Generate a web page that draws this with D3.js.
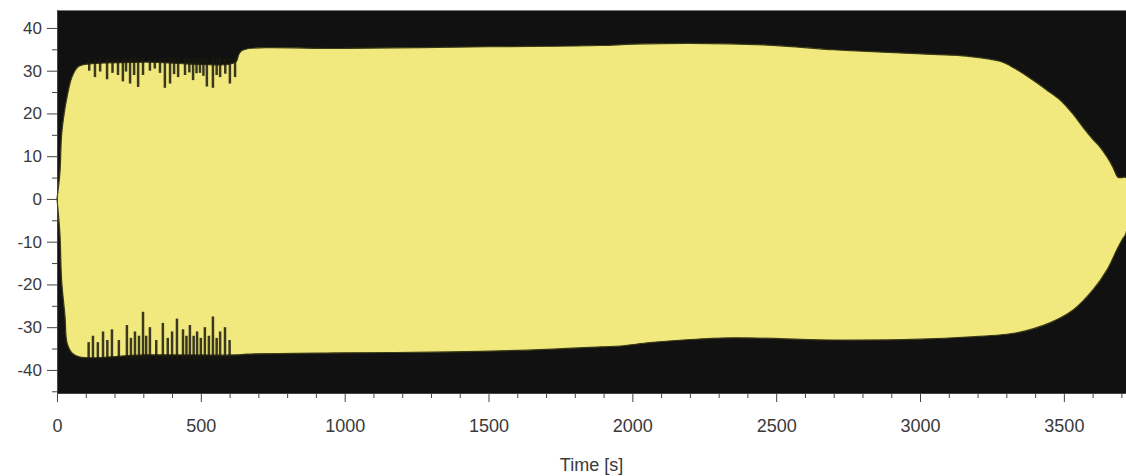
<!DOCTYPE html>
<html>
<head>
<meta charset="utf-8">
<script src="https://cdn.jsdelivr.net/npm/d3@7"></script>
<style>
  body { margin: 0; background: #ffffff; }
  .ejes text { font-family: 'Liberation Sans', Arial, sans-serif; fill: #3a3a3a; }
  .ejes path, .ejes line { stroke: #444444; }
  .titulo { font-family: 'Liberation Sans', Arial, sans-serif; font-size: 18px; fill: #3a3a3a; }
</style>
</head>
<body>
<div id="graf"></div>
<script>
// !DATOS
// envolvente superior: tiempo [s] y amplitud
const upperT = [0, 10, 16, 25, 35, 52, 73, 100, 300, 620, 632, 645, 1000, 1500, 1890, 2000, 2200, 2468, 2600, 2697, 2815, 3045, 3163, 3278, 3330, 3392, 3440, 3486, 3530, 3566, 3600, 3625, 3650, 3670, 3688, 3700, 3716]
const upperV = [0, 6, 15, 20, 23.9, 28.5, 30.9, 31.5, 32, 32, 33.8, 34.8, 35.2, 35.6, 35.9, 36.2, 36.4, 36.0, 35.4, 34.9, 34.5, 33.8, 33.4, 32.2, 30.5, 27.8, 25.5, 23.2, 20.0, 16.8, 14.0, 12.2, 9.8, 7.5, 5.1, 5.0, 5.0]

// envolvente inferior
const lowerT = [0, 10, 16, 28, 35, 52, 80, 300, 620, 660, 1000, 1366, 1700, 1890, 1960, 2061, 2176, 2350, 2700, 3000, 3163, 3337, 3451, 3532, 3601, 3650, 3684, 3702, 3716]
const lowerV = [0, -8, -19, -27.6, -33.7, -36, -37, -36.5, -36.5, -36.3, -36.0, -35.8, -35.2, -34.6, -34.4, -33.6, -33.0, -32.5, -33.0, -32.8, -32.3, -31.3, -29, -26, -21.3, -16.6, -11.9, -9.6, -8]

// picos (caidas de amplitud) entre 0 y 620 s
const topSpikeT = [112, 132, 150, 174, 193, 212, 229, 240, 254, 268, 282, 299, 323, 340, 358, 375, 393, 407, 421, 445, 460, 473, 485, 497, 509, 521, 542, 555, 567, 585, 601, 619]
const topSpikeV = [30, 28.5, 29.8, 28, 29.5, 29, 27.5, 29.8, 27, 29, 26.2, 29, 30, 30.5, 29.5, 26, 27, 29.2, 28.5, 29, 29.6, 27.8, 29.4, 29.5, 28.8, 26.3, 26, 29, 28.5, 29.3, 27, 28.5]
const botSpikeT = [110, 125, 142, 160, 175, 191, 215, 243, 257, 271, 285, 299, 310, 323, 345, 368, 385, 400, 417, 438, 450, 462, 475, 487, 500, 514, 528, 542, 555, 567, 584, 600]
const botSpikeV = [-33.5, -32, -33.5, -31, -33, -30.5, -33, -29.5, -32.5, -31, -32, -26.4, -32, -30, -33, -29, -32.5, -31, -28, -30.5, -32, -29.5, -32, -31, -32.5, -30, -32, -27.5, -32.5, -31, -30, -33]

// ticks
const xTicks = [0, 500, 1000, 1500, 2000, 2500, 3000, 3500]
const xMinor = [100, 200, 300, 400, 600, 700, 800, 900, 1100, 1200, 1300, 1400, 1600, 1700, 1800, 1900, 2100, 2200, 2300, 2400, 2600, 2700, 2800, 2900, 3100, 3200, 3300, 3400, 3600, 3700]
const yTicks = [-40, -30, -20, -10, 0, 10, 20, 30, 40]
const yMinor = [-45, -35, -25, -15, -5, 5, 15, 25, 35]

const graf = d3.select('#graf')
const anchoTotal = 1126
const altoTotal = 476

const margin = { top: 10, bottom: 83, left: 57, right: 0 }
const ancho = anchoTotal - margin.left - margin.right
const alto = altoTotal - margin.top - margin.bottom

const svg = graf
  .append('svg')
  .attr('width', anchoTotal)
  .attr('height', altoTotal)

const g = svg
  .append('g')
  .attr('transform', `translate(${margin.left}, ${margin.top})`)

// !ESCALADORES
const x = d3.scaleLinear().domain([0, 3716]).range([0, ancho])
const y = d3.scaleLinear().domain([-45.4, 44.2]).range([alto, 0])

// fondo negro
g.append('rect')
  .attr('x', 0)
  .attr('y', 0)
  .attr('width', ancho)
  .attr('height', alto)
  .attr('fill', '#111111')

// envolvente de la señal
const upper = d3.zip(upperT, upperV)
const lower = d3.zip(lowerT, lowerV).reverse()
const linea = d3
  .line()
  .x((d) => x(d[0]))
  .y((d) => y(d[1]))
  .curve(d3.curveCatmullRom.alpha(0.5))

g.append('path')
  .attr('d', linea(upper.concat(lower)) + 'Z')
  .attr('fill', '#f1e97d')
  .attr('stroke', '#3b3a18')
  .attr('stroke-width', 1.2)

// picos
g.selectAll('.pico-sup')
  .data(d3.zip(topSpikeT, topSpikeV))
  .join('line')
  .attr('class', 'pico-sup')
  .attr('x1', (d) => x(d[0]))
  .attr('x2', (d) => x(d[0]))
  .attr('y1', y(33))
  .attr('y2', (d) => y(d[1]))
  .attr('stroke', '#1a1a0e')
  .attr('stroke-opacity', 0.85)
  .attr('stroke-width', 2.5)

g.selectAll('.pico-inf')
  .data(d3.zip(botSpikeT, botSpikeV))
  .join('line')
  .attr('class', 'pico-inf')
  .attr('x1', (d) => x(d[0]))
  .attr('x2', (d) => x(d[0]))
  .attr('y1', y(-37.5))
  .attr('y2', (d) => y(d[1]))
  .attr('stroke', '#1a1a0e')
  .attr('stroke-opacity', 0.85)
  .attr('stroke-width', 2.5)

// borde superior
g.append('line')
  .attr('x1', 0)
  .attr('x2', ancho)
  .attr('y1', 0.5)
  .attr('y2', 0.5)
  .attr('stroke', '#777777')

// !EJES
g.append('g')
  .attr('class', 'ejes')
  .attr('transform', `translate(0, ${alto})`)
  .call(d3.axisBottom(x).tickValues(xMinor).tickSize(5).tickFormat(''))
  .call((s) => s.select('.domain').remove())

g.append('g')
  .attr('class', 'ejes')
  .attr('transform', `translate(0, ${alto})`)
  .call(
    d3
      .axisBottom(x)
      .tickValues(xTicks)
      .tickSize(9)
      .tickSizeOuter(0)
      .tickPadding(17)
      .tickFormat((d) => String(d))
  )
  .selectAll('text')
  .style('font-size', '18px')

g.append('g')
  .attr('class', 'ejes')
  .call(d3.axisLeft(y).tickValues(yMinor).tickSize(5).tickFormat(''))
  .call((s) => s.select('.domain').remove())

g.append('g')
  .attr('class', 'ejes')
  .call(
    d3
      .axisLeft(y)
      .tickValues(yTicks)
      .tickSize(10)
      .tickSizeOuter(0)
      .tickPadding(5)
      .tickFormat((d) => String(d))
  )
  .selectAll('text')
  .style('font-size', '17px')

svg
  .append('text')
  .attr('class', 'titulo')
  .attr('x', margin.left + ancho / 2)
  .attr('y', 471)
  .attr('text-anchor', 'middle')
  .text('Time [s]')
</script>
</body>
</html>
